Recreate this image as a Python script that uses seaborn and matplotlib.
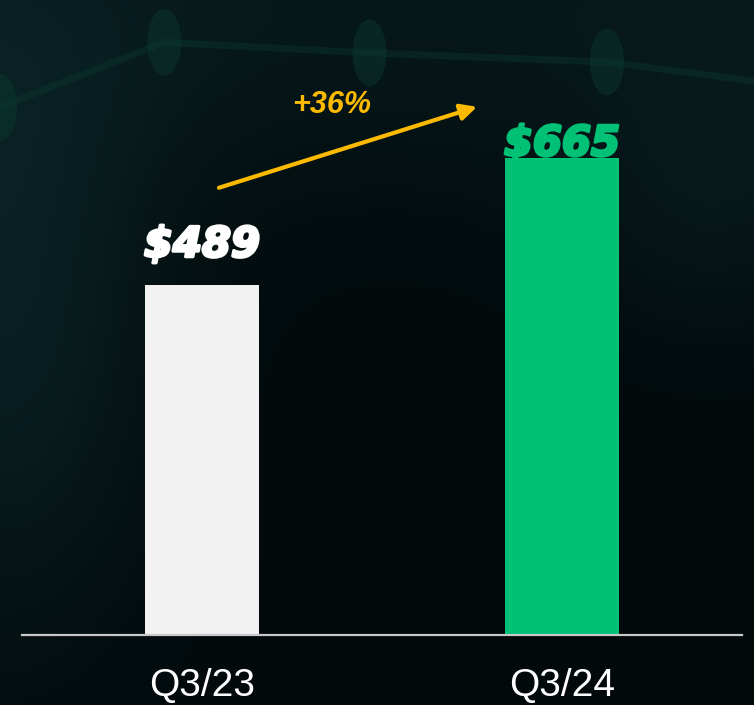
import numpy as np
import pandas as pd
import matplotlib
matplotlib.use("Agg")
import matplotlib.pyplot as plt
import matplotlib.patheffects as pe
from matplotlib.patches import Ellipse
import seaborn as sns

# ---- data ----
categories = ["Q3/23", "Q3/24"]
values = [489, 665]
value_labels = ["\\$489", "\\$665"]
growth_label = "+36%"

bar_colors = {"Q3/23": "#f2f2f2", "Q3/24": "#00c176"}
label_colors = ["#ffffff", "#00c176"]
label_offsets_pt = [20, 2]
gold = "#fbb900"

df = pd.DataFrame({"quarter": categories, "revenue": values})

sns.set_theme(style="white")
plt.rcParams["font.family"] = ["Liberation Sans", "DejaVu Sans"]

fig = plt.figure(figsize=(7.54, 7.05), dpi=100)

# background gradient (decorative)
bg = fig.add_axes([0, 0, 1, 1], zorder=-10)
H, W = 141, 151
yy, xx = np.mgrid[0:1:H * 1j, 0:1:W * 1j]
base = np.array([2, 9, 11]) / 255.0
teal = np.array([11, 38, 40]) / 255.0
w = 0.75 * np.exp(-(xx / 0.22) ** 2) * np.exp(-((yy - 0.45) / 0.45) ** 2)
w += 0.5 * np.exp(-(yy / 0.28) ** 2)
w += 0.35 * np.exp(-((xx - 0.95) / 0.2) ** 2) * np.exp(-((yy - 0.3) / 0.2) ** 2)
w = np.clip(w, 0, 1)
img = base[None, None, :] * (1 - w[..., None]) + teal[None, None, :] * w[..., None]
bg.imshow(img, aspect="auto", extent=[0, 1, 1, 0], interpolation="bicubic")
# faint decorative backdrop line
deco_x = [0.0, 0.218, 0.49, 0.805, 1.0]
deco_y = [0.152, 0.06, 0.075, 0.088, 0.115]
bg.plot(deco_x, deco_y, color="#0c3a30", lw=5, alpha=0.4, solid_capstyle="round")
for dx, dy in zip(deco_x[:4], deco_y[:4]):
    bg.add_patch(Ellipse((dx, dy), 0.045, 0.095, color="#0c3a30", alpha=0.45, lw=0))
bg.set_xlim(0, 1)
bg.set_ylim(1, 0)
bg.set_axis_off()

ax = fig.add_axes([22 / 754, 70 / 705, 720 / 754, 635 / 705])
ax.set_facecolor("none")

sns.barplot(data=df, x="quarter", y="revenue", hue="quarter", palette=bar_colors,
            width=0.314, legend=False, saturation=1, linewidth=0, ax=ax, zorder=3)

ax.set_xlim(-0.5, 1.5)
ax.set_ylim(0, 886)
ax.set_xlabel("")
ax.set_ylabel("")
ax.set_yticks([])
for s in ["top", "left", "right"]:
    ax.spines[s].set_visible(False)
ax.spines["bottom"].set_color("#c8c8c8")
ax.spines["bottom"].set_linewidth(1.6)
ax.spines["bottom"].set_zorder(5)
ax.tick_params(axis="x", length=0, pad=24, labelsize=28, labelcolor="white")
for t in ax.get_xticklabels():
    t.set_family(["Liberation Sans", "DejaVu Sans"])

# value labels
for i, (v, lab) in enumerate(zip(values, value_labels)):
    ax.annotate(lab, xy=(i, v), xytext=(0, label_offsets_pt[i]), textcoords="offset points",
                ha="center", va="baseline", fontsize=30, fontweight="bold", fontstyle="italic",
                family=["DejaVu Sans"], color=label_colors[i], zorder=6,
                path_effects=[pe.withStroke(linewidth=2.2, foreground=label_colors[i])])

# growth arrow
ax.annotate("", xy=(0.764, 737), xytext=(0.047, 624),
            arrowprops=dict(arrowstyle="-|>", color=gold, lw=3, mutation_scale=24,
                            shrinkA=0, shrinkB=0), zorder=6)
ax.text(0.361, 740, growth_label, ha="center", va="center", fontsize=22,
        fontweight="bold", fontstyle="italic", color=gold, zorder=6)

fig.savefig("out.png", dpi=100)
